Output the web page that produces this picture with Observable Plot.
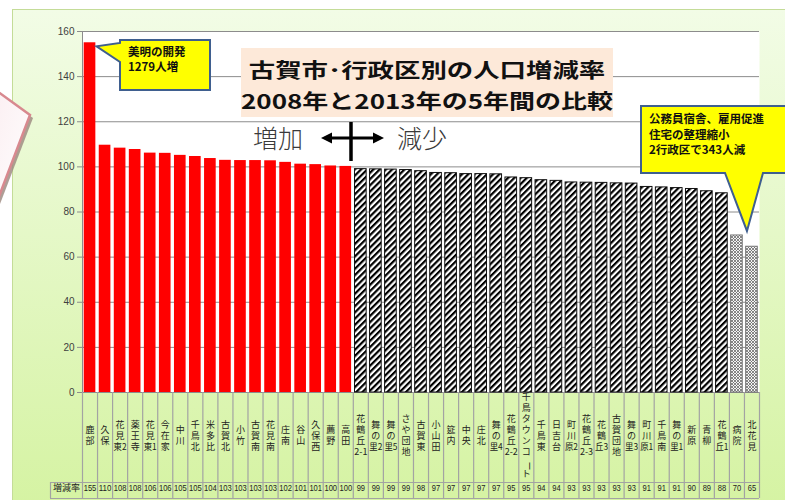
<!DOCTYPE html>
<html><head><meta charset="utf-8">
<script src="https://cdn.jsdelivr.net/npm/d3@7"></script>
<script src="https://cdn.jsdelivr.net/npm/@observablehq/plot@0.6"></script>
<style>
body{margin:0;background:#fff;}
#wrap{position:relative;width:785px;height:500px;overflow:hidden;background:#fff;font-family:"Noto Sans CJK JP",sans-serif;}
#panel{position:absolute;left:12px;top:9px;width:790px;height:500px;background:linear-gradient(#f2fce6,#d5f3a2);border-left:1.5px solid #c4dc98;border-top:1.5px solid #c4dc98;}
#chart{position:absolute;left:0;top:0;}
#chart svg{display:block;}
#title{position:absolute;left:241px;top:48px;width:372px;height:69px;background:#fde9d9;}
#title div{position:absolute;left:0;width:372px;text-align:center;font-weight:bold;font-size:20px;color:#111;white-space:nowrap;line-height:24px;}
#t1{top:10px;transform:scaleX(1.32);}
#t2{top:41px;transform:scaleX(1.3);}
.dir{position:absolute;top:121px;font-size:25px;color:#3a3a3a;line-height:32px;font-weight:300;}
#over{position:absolute;left:0;top:0;}
</style></head>
<body>
<div id="wrap">
  <div id="panel"></div>
  <div id="chart"></div>
  <div id="title"><div id="t1">古賀市･行政区別の人口増減率</div><div id="t2">2008年と2013年の5年間の比較</div></div>
  <div class="dir" style="left:253px">増加</div>
  <div class="dir" style="left:397px">減少</div>
  <svg id="over" width="785" height="500"></svg>
</div>
<script>
const categories = ["鹿部","久保","花見東2","薬王寺","花見東1","今在家","中川","千鳥北","米多比","古賀北","小竹","古賀南","花見南","庄南","谷山","久保西","薦野","高田","花鶴丘2-1","舞の里2","舞の里5","さや団地","古賀東","小山田","筵内","中央","庄北","舞の里4","花鶴丘2-2","千鳥タウンコート","千鳥東","日吉台","町川原2","花鶴丘2-3","花鶴丘3","古賀団地","舞の里3","町川原1","千鳥南","舞の里1","新原","青柳","花鶴丘1","病院","北花見"];
const values = [155.0,109.6,108.3,107.7,106.1,106.0,105.1,104.6,103.7,102.9,102.8,102.8,102.7,102.0,101.2,101.0,100.4,100.2,99.0,98.9,98.8,98.6,98.1,97.3,97.2,96.8,96.8,96.7,95.3,95.0,94.1,93.8,93.1,93.0,92.9,92.7,92.6,91.1,90.9,90.6,90.2,89.2,88.3,69.6,64.6];
const highlighted = ["病院","北花見"];
const yTicks = [0,20,40,60,80,100,120,140,160];
const rowLabel = "増減率";
const note1 = ["美明の開発","1279人増"];
const note2 = ["公務員宿舎、雇用促進","住宅の整理縮小","2行政区で343人減"];

const data = categories.map((c,i)=>({c, i, v: values[i],
  kind: highlighted.includes(c) ? "special" : values[i] >= 100 ? "up" : "down"}));

function labelLines(name){
  const m = name.match(/^(.*?)(\d-\d|\d)?$/);
  const base = [...m[1]];
  const suf = m[2];
  if (!suf) return base;
  if (suf.includes("-")) return [...base, suf];
  base[base.length-1] += suf;
  return base;
}
const charRows = [];
data.forEach(d=>{
  const lines = labelLines(d.c), n = lines.length;
  lines.forEach((t,j)=>charRows.push({i:d.i, t, off: Math.round((46 + (j-(n-1)/2)*11)*10)/10, rot: t==="ー" ? 90 : 0}));
});
const labelMarks = d3.groups(charRows, r=>r.off).map(([off, rows]) =>
  Plot.text(rows, {x: r=>r.i+0.5, frameAnchor:"bottom", dy: off, text:"t", rotate:"rot",
    fontSize: 9, fill:"#222", fontFamily:"Noto Sans CJK JP", className:"catlab"}));

const n = categories.length;
const W = 785, H = 500, mL = 82, mR = 26, mT = 31, mB = 108;
const plotH = H - mT - mB;
const lineC = "#a3a3a3";
const barOpts = {x1:"i", x2: d=>d.i+1, y1: 0, y2:"v", insetLeft:1.7, insetRight:1.7};

const chart = Plot.plot({
  width: W, height: H, marginLeft: mL, marginRight: mR, marginTop: mT, marginBottom: mB,
  x: {domain:[0,n], axis:null},
  y: {domain:[0,160]},
  style: {background:"transparent", fontFamily:"Liberation Sans, sans-serif", fontSize:"10px", color:"#404040", overflow:"visible"},
  marks: [
    Plot.frame({fill:"white", stroke:"none"}),
    Plot.gridY(yTicks, {stroke:"#8c8c8c", strokeOpacity:1, strokeWidth:1}),
    Plot.axisY(yTicks, {tickSize:5, tickPadding:3, label:null, stroke:"#8c8c8c", fill:"#404040", fontSize:10}),
    Plot.ruleX([0], {stroke:"#8c8c8c"}),
    Plot.rect(data.filter(d=>d.kind==="up"), {...barOpts, fill:"#ff0000"}),
    Plot.rect(data.filter(d=>d.kind==="down"), {...barOpts, fill:"url(#hatch)", stroke:"#111", strokeWidth:1}),
    Plot.rect(data.filter(d=>d.kind==="special"), {...barOpts, fill:"url(#cross)", stroke:"#777", strokeWidth:1}),
    // table grid
    Plot.ruleX(d3.range(n+1), {stroke:lineC, strokeWidth:1.2, insetTop: plotH, insetBottom: -106}),
    Plot.ruleX([0], {stroke:lineC, strokeWidth:1.2, dx:-32, insetTop: plotH+90, insetBottom: -106}),
    Plot.ruleY([0], {stroke:lineC, strokeWidth:1.2, dy:90, insetLeft:-32}),
    Plot.ruleY([0], {stroke:lineC, strokeWidth:1.2, dy:106, insetLeft:-32}),
    ...labelMarks,
    Plot.text([rowLabel], {frameAnchor:"bottom-left", textAnchor:"middle", dx:-16, dy:98, fontSize:9, fill:"#222", fontFamily:"Noto Sans CJK JP"}),
    Plot.text(data, {x: d=>d.i+0.5, frameAnchor:"bottom", dy:98, text: d=>Math.round(d.v), fontSize:9.5, fill:"#222",
      fontFamily:"Liberation Sans, sans-serif", className:"vals"})
  ]
});
document.getElementById("chart").appendChild(chart);

// condense the value-row digits to fit their cells
d3.select(chart).selectAll(".vals text").each(function(){
  const t = this.textContent;
  d3.select(this).attr("textLength", t.length * 4.2).attr("lengthAdjust","spacingAndGlyphs");
});
// labels with a trailing number: condense to fit the column
d3.select(chart).selectAll(".catlab text").each(function(){
  const t = this.textContent;
  if (/[^\d-]\d$/.test(t)) d3.select(this).attr("textLength", 13).attr("lengthAdjust","spacingAndGlyphs");
});

// patterns
const svg = d3.select(chart);
const defs = svg.insert("defs", ":first-child");
const h = defs.append("pattern").attr("id","hatch").attr("patternUnits","userSpaceOnUse")
  .attr("width",4.4).attr("height",4.4).attr("patternTransform","rotate(45)");
h.append("rect").attr("width",4.4).attr("height",4.4).attr("fill","#fff");
h.append("rect").attr("width",2.2).attr("height",4.4).attr("fill","#000");
const cp = defs.append("pattern").attr("id","cross").attr("patternUnits","userSpaceOnUse")
  .attr("width",3).attr("height",3);
cp.append("rect").attr("width",3).attr("height",3).attr("fill","#f4f4f4");
cp.append("path").attr("d","M0,0L3,3M3,0L0,3").attr("stroke","#6a6a6a").attr("stroke-width",0.8);

// callouts anchored to bars via scales
const sx = chart.scale("x"), sy = chart.scale("y");
const g = svg.append("g").attr("text-anchor","start");
function callout(box, wedge, tip, lines, fs, lh, y0){
  let p;
  if (wedge.side === "left") {
    p = `M${box.x},${box.y}H${box.x+box.w}V${box.y+box.h}H${box.x}V${wedge.b}L${tip[0]},${tip[1]}L${box.x},${wedge.a}Z`;
  } else {
    p = `M${box.x},${box.y}H${box.x+box.w}V${box.y+box.h}H${wedge.b}L${tip[0]},${tip[1]}L${wedge.a},${box.y+box.h}H${box.x}Z`;
  }
  g.append("path").attr("d",p).attr("fill","#ffff00").attr("stroke","#3f5f8f").attr("stroke-width",2).attr("stroke-linejoin","miter");
  lines.forEach((t,k)=>g.append("text").attr("x",box.x+8).attr("y",y0+k*lh).attr("dy","0.35em").attr("text-anchor","start")
    .attr("font-family","Noto Sans CJK JP").attr("font-weight","bold").attr("font-size",fs).attr("fill","#111").text(t));
}
callout({x:120,y:40,w:90,h:50}, {side:"left", a:43, b:62},
  [sx.apply(1)-0.5, sy.apply(values[0])+4], note1, 11.5, 15.5, 51.5);
callout({x:641,y:106,w:160,h:67}, {side:"bottom", a:725, b:763},
  [sx.apply(44)+3, sy.apply(values[43])-4], note2, 11.5, 15.5, 119);

// arrow + pink note overlay
const ov = d3.select("#over");
ov.append("line").attr("x1",328).attr("x2",377).attr("y1",138).attr("y2",138).attr("stroke","#000").attr("stroke-width",3);
ov.append("path").attr("d","M321,138L332,132.5L332,143.5Z").attr("fill","#000");
ov.append("path").attr("d","M384,138L373,132.5L373,143.5Z").attr("fill","#000");
ov.append("line").attr("x1",351).attr("x2",351).attr("y1",122).attr("y2",161).attr("stroke","#000").attr("stroke-width",3.5);
const gr = ov.append("defs").append("linearGradient").attr("id","pink").attr("x1",0).attr("y1",0).attr("x2",1).attr("y2",1);
gr.append("stop").attr("offset",0).attr("stop-color","#fbeef1");
gr.append("stop").attr("offset",1).attr("stop-color","#ffffff");
ov.append("path").attr("d","M-10,88L33,118L-10,230Z").attr("fill","#a08d84").attr("opacity",0.85);
ov.append("path").attr("d","M-10,86L30,115L-10,220Z").attr("fill","url(#pink)").attr("stroke","#d8898f").attr("stroke-width",2.5);
</script>
</body></html>
